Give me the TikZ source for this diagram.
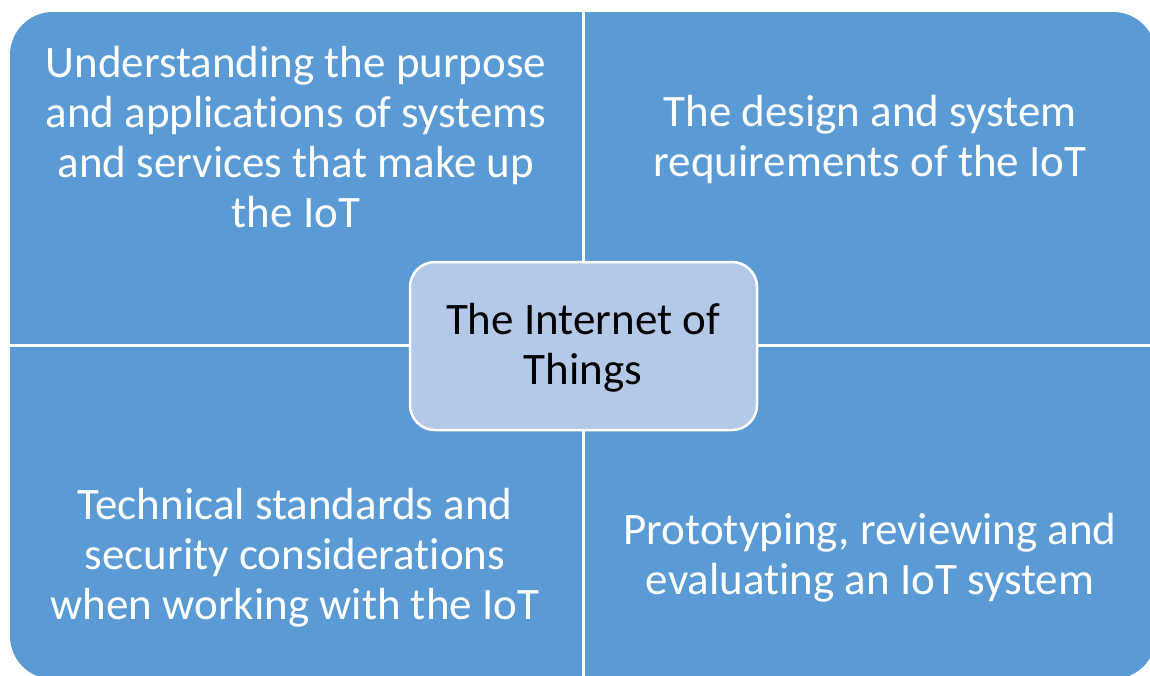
\documentclass[tikz,border=0pt]{standalone}
\usepackage{fontspec}
\setmainfont{Carlito}[Ligatures=NoCommon]
\definecolor{quadblue}{HTML}{5B9BD5}
\definecolor{centerblue}{HTML}{B4C8E8}
\begin{document}
\begin{tikzpicture}[x=1pt,y=-1pt,
  quadtext/.style={text=white,align=center,inner sep=0pt,font=\fontsize{45}{50}\selectfont},
  centertext/.style={text=black,align=center,inner sep=0pt,font=\fontsize{45}{50}\selectfont},
  sep/.style={draw=white,line width=3pt}]
\useasboundingbox (0,0) rectangle (1150,675);
\clip (0,0) rectangle (1150,675);
\fill[white] (0,0) rectangle (1150,675);
% outer matrix
\fill[quadblue,rounded corners=43pt] (10,12) rectangle (1156,679);
\coordinate (vt) at (583,0);
\coordinate (vb) at (583,690);
\coordinate (hl) at (0,345);
\coordinate (hr) at (1160,345);
\draw[sep] (vt) -- (vb);
\draw[sep] (hl) -- (hr);
% center box
\node[draw=white,line width=2.5pt,fill=centerblue,rounded corners=25pt,
      minimum width=347pt,minimum height=168pt,inner sep=0pt] (cbox) at (583.5,346) {};
\node[centertext] (c) at (583,348) {The Internet of\\Things};
% quadrant texts
\node[quadtext] (q1) at (296,137) {Understanding the purpose\\and applications of systems\\and services that make up\\the IoT};
\node[quadtext] (q2) at (870,139) {The design and system\\requirements of the IoT};
\node[quadtext] (q3) at (295,558) {Technical standards and\\security considerations\\when working with the IoT};
\node[quadtext] (q4) at (870,558) {Prototyping, reviewing and\\evaluating an IoT system};
\end{tikzpicture}
\end{document}
